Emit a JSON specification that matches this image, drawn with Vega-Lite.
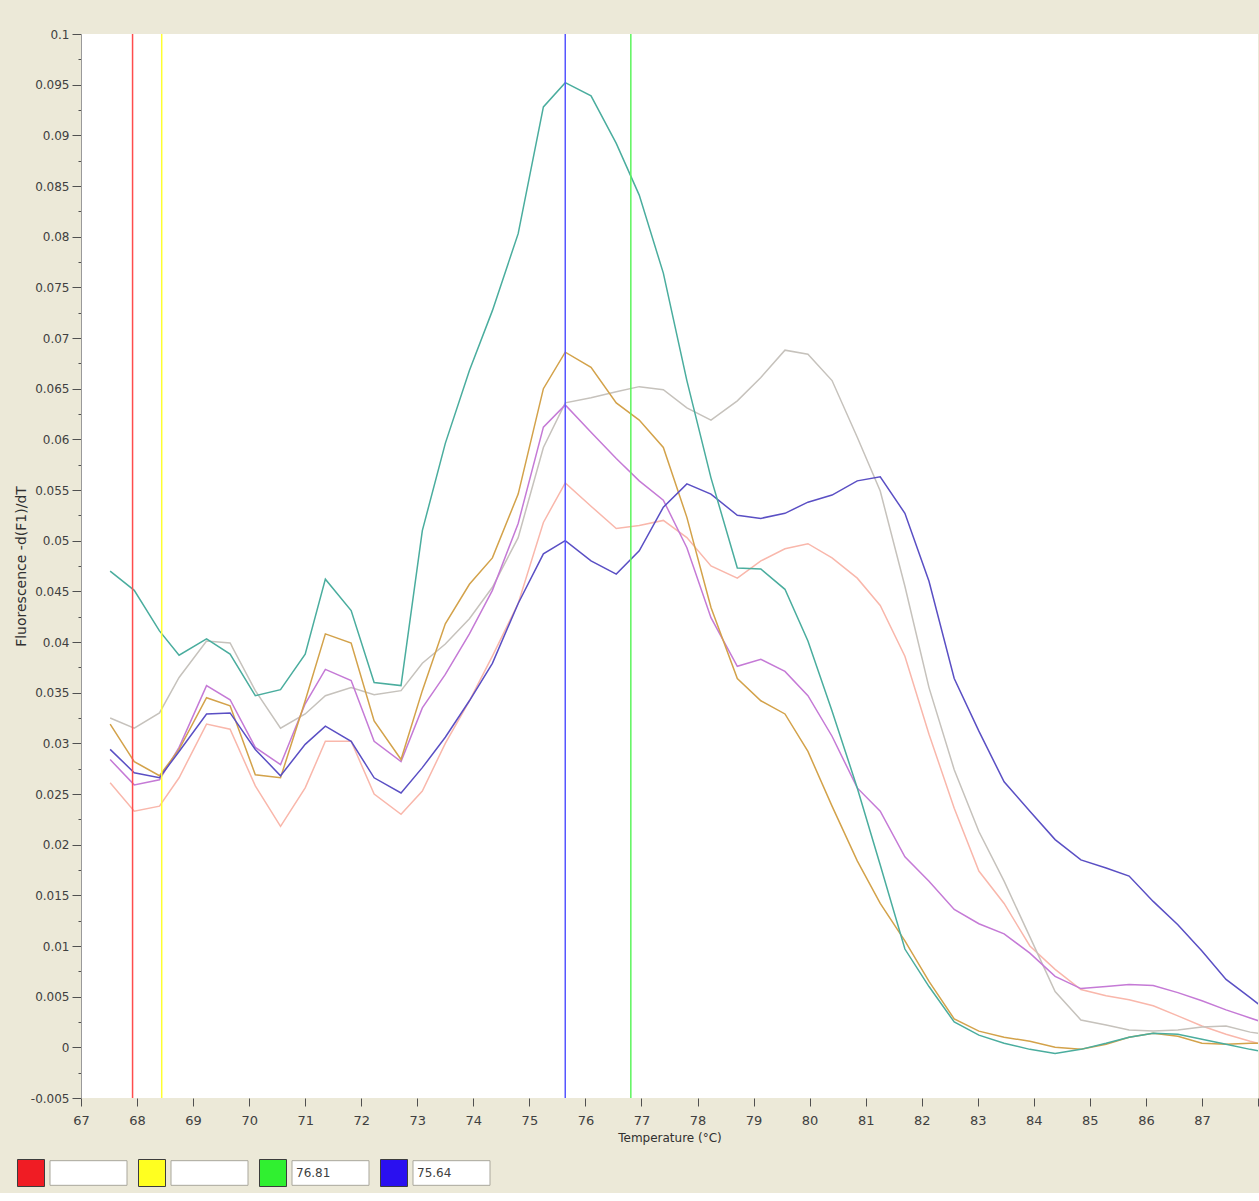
{
  "$schema": "https://vega.github.io/schema/vega-lite/v6.json",
  "background": "#ECE9D8",
  "padding": {"left": 14, "top": 28, "right": 0, "bottom": 0},
  "spacing": 10,
  "config": {
    "view": {"stroke": null},
    "font": "DejaVu Sans",
    "axis": {"labelColor": "#404040", "titleColor": "#303030", "tickColor": "#505050", "labelFontSize": 12, "titleFontWeight": "normal", "grid": false}
  },
  "datasets": {
    "curves": [
      {"sample":"S1","temperature":67.52,"value":0.0261},{"sample":"S1","temperature":67.95,"value":0.0233},{"sample":"S1","temperature":68.40,"value":0.0238},{"sample":"S1","temperature":68.75,"value":0.0266},{"sample":"S1","temperature":69.24,"value":0.0319},{"sample":"S1","temperature":69.66,"value":0.0314},{"sample":"S1","temperature":70.11,"value":0.0258},{"sample":"S1","temperature":70.56,"value":0.0218},{"sample":"S1","temperature":71.00,"value":0.0256},{"sample":"S1","temperature":71.36,"value":0.0302},{"sample":"S1","temperature":71.82,"value":0.0302},{"sample":"S1","temperature":72.23,"value":0.0250},{"sample":"S1","temperature":72.71,"value":0.0230},{"sample":"S1","temperature":73.09,"value":0.0253},{"sample":"S1","temperature":73.50,"value":0.0300},{"sample":"S1","temperature":73.93,"value":0.0342},{"sample":"S1","temperature":74.34,"value":0.0386},{"sample":"S1","temperature":74.80,"value":0.0438},{"sample":"S1","temperature":75.25,"value":0.0518},{"sample":"S1","temperature":75.64,"value":0.0557},{"sample":"S1","temperature":76.10,"value":0.0534},{"sample":"S1","temperature":76.55,"value":0.0512},{"sample":"S1","temperature":76.96,"value":0.0515},{"sample":"S1","temperature":77.39,"value":0.0520},{"sample":"S1","temperature":77.81,"value":0.0503},{"sample":"S1","temperature":78.24,"value":0.0475},{"sample":"S1","temperature":78.71,"value":0.0463},{"sample":"S1","temperature":79.13,"value":0.0480},{"sample":"S1","temperature":79.56,"value":0.0492},{"sample":"S1","temperature":79.97,"value":0.0497},{"sample":"S1","temperature":80.40,"value":0.0483},{"sample":"S1","temperature":80.85,"value":0.0463},{"sample":"S1","temperature":81.26,"value":0.0436},{"sample":"S1","temperature":81.70,"value":0.0386},{"sample":"S1","temperature":82.13,"value":0.0309},{"sample":"S1","temperature":82.58,"value":0.0236},{"sample":"S1","temperature":83.02,"value":0.0174},{"sample":"S1","temperature":83.47,"value":0.0142},{"sample":"S1","temperature":83.93,"value":0.0100},{"sample":"S1","temperature":84.38,"value":0.0077},{"sample":"S1","temperature":84.84,"value":0.0057},{"sample":"S1","temperature":85.29,"value":0.0051},{"sample":"S1","temperature":85.70,"value":0.0047},{"sample":"S1","temperature":86.13,"value":0.0041},{"sample":"S1","temperature":86.57,"value":0.0031},{"sample":"S1","temperature":87.00,"value":0.0021},{"sample":"S1","temperature":87.43,"value":0.0013},{"sample":"S1","temperature":87.86,"value":0.0006},{"sample":"S1","temperature":88.28,"value":0.0000},

      {"sample":"S2","temperature":67.52,"value":0.0325},{"sample":"S2","temperature":67.95,"value":0.0315},{"sample":"S2","temperature":68.40,"value":0.0330},{"sample":"S2","temperature":68.75,"value":0.0365},{"sample":"S2","temperature":69.24,"value":0.0401},{"sample":"S2","temperature":69.66,"value":0.0399},{"sample":"S2","temperature":70.11,"value":0.0352},{"sample":"S2","temperature":70.56,"value":0.0315},{"sample":"S2","temperature":71.00,"value":0.0329},{"sample":"S2","temperature":71.36,"value":0.0347},{"sample":"S2","temperature":71.82,"value":0.0355},{"sample":"S2","temperature":72.23,"value":0.0348},{"sample":"S2","temperature":72.71,"value":0.0352},{"sample":"S2","temperature":73.09,"value":0.0379},{"sample":"S2","temperature":73.50,"value":0.0398},{"sample":"S2","temperature":73.93,"value":0.0423},{"sample":"S2","temperature":74.34,"value":0.0454},{"sample":"S2","temperature":74.80,"value":0.0503},{"sample":"S2","temperature":75.25,"value":0.0592},{"sample":"S2","temperature":75.64,"value":0.0636},{"sample":"S2","temperature":76.10,"value":0.0641},{"sample":"S2","temperature":76.55,"value":0.0647},{"sample":"S2","temperature":76.96,"value":0.0652},{"sample":"S2","temperature":77.39,"value":0.0649},{"sample":"S2","temperature":77.81,"value":0.0631},{"sample":"S2","temperature":78.24,"value":0.0619},{"sample":"S2","temperature":78.71,"value":0.0638},{"sample":"S2","temperature":79.13,"value":0.0661},{"sample":"S2","temperature":79.56,"value":0.0688},{"sample":"S2","temperature":79.97,"value":0.0684},{"sample":"S2","temperature":80.40,"value":0.0658},{"sample":"S2","temperature":80.85,"value":0.0602},{"sample":"S2","temperature":81.26,"value":0.0549},{"sample":"S2","temperature":81.70,"value":0.0455},{"sample":"S2","temperature":82.13,"value":0.0355},{"sample":"S2","temperature":82.58,"value":0.0274},{"sample":"S2","temperature":83.02,"value":0.0213},{"sample":"S2","temperature":83.47,"value":0.0164},{"sample":"S2","temperature":83.93,"value":0.0109},{"sample":"S2","temperature":84.38,"value":0.0055},{"sample":"S2","temperature":84.84,"value":0.0027},{"sample":"S2","temperature":85.29,"value":0.0022},{"sample":"S2","temperature":85.70,"value":0.0017},{"sample":"S2","temperature":86.13,"value":0.0016},{"sample":"S2","temperature":86.57,"value":0.0017},{"sample":"S2","temperature":87.00,"value":0.0020},{"sample":"S2","temperature":87.43,"value":0.0021},{"sample":"S2","temperature":87.86,"value":0.0015},{"sample":"S2","temperature":88.28,"value":0.0012},

      {"sample":"S3","temperature":67.52,"value":0.0284},{"sample":"S3","temperature":67.95,"value":0.0259},{"sample":"S3","temperature":68.40,"value":0.0264},{"sample":"S3","temperature":68.75,"value":0.0296},{"sample":"S3","temperature":69.24,"value":0.0357},{"sample":"S3","temperature":69.66,"value":0.0343},{"sample":"S3","temperature":70.11,"value":0.0296},{"sample":"S3","temperature":70.56,"value":0.0279},{"sample":"S3","temperature":71.00,"value":0.0339},{"sample":"S3","temperature":71.36,"value":0.0373},{"sample":"S3","temperature":71.82,"value":0.0362},{"sample":"S3","temperature":72.23,"value":0.0302},{"sample":"S3","temperature":72.71,"value":0.0282},{"sample":"S3","temperature":73.09,"value":0.0335},{"sample":"S3","temperature":73.50,"value":0.0368},{"sample":"S3","temperature":73.93,"value":0.0408},{"sample":"S3","temperature":74.34,"value":0.0451},{"sample":"S3","temperature":74.80,"value":0.0517},{"sample":"S3","temperature":75.25,"value":0.0612},{"sample":"S3","temperature":75.64,"value":0.0634},{"sample":"S3","temperature":76.10,"value":0.0607},{"sample":"S3","temperature":76.55,"value":0.0581},{"sample":"S3","temperature":76.96,"value":0.0559},{"sample":"S3","temperature":77.39,"value":0.0540},{"sample":"S3","temperature":77.81,"value":0.0493},{"sample":"S3","temperature":78.24,"value":0.0424},{"sample":"S3","temperature":78.71,"value":0.0376},{"sample":"S3","temperature":79.13,"value":0.0383},{"sample":"S3","temperature":79.56,"value":0.0371},{"sample":"S3","temperature":79.97,"value":0.0347},{"sample":"S3","temperature":80.40,"value":0.0307},{"sample":"S3","temperature":80.85,"value":0.0256},{"sample":"S3","temperature":81.26,"value":0.0233},{"sample":"S3","temperature":81.70,"value":0.0188},{"sample":"S3","temperature":82.13,"value":0.0164},{"sample":"S3","temperature":82.58,"value":0.0136},{"sample":"S3","temperature":83.02,"value":0.0122},{"sample":"S3","temperature":83.47,"value":0.0112},{"sample":"S3","temperature":83.93,"value":0.0093},{"sample":"S3","temperature":84.38,"value":0.0070},{"sample":"S3","temperature":84.84,"value":0.0058},{"sample":"S3","temperature":85.29,"value":0.0060},{"sample":"S3","temperature":85.70,"value":0.0062},{"sample":"S3","temperature":86.13,"value":0.0061},{"sample":"S3","temperature":86.57,"value":0.0054},{"sample":"S3","temperature":87.00,"value":0.0046},{"sample":"S3","temperature":87.43,"value":0.0037},{"sample":"S3","temperature":87.86,"value":0.0029},{"sample":"S3","temperature":88.28,"value":0.0021},

      {"sample":"S4","temperature":67.52,"value":0.0319},{"sample":"S4","temperature":67.95,"value":0.0282},{"sample":"S4","temperature":68.40,"value":0.0268},{"sample":"S4","temperature":68.75,"value":0.0294},{"sample":"S4","temperature":69.24,"value":0.0345},{"sample":"S4","temperature":69.66,"value":0.0337},{"sample":"S4","temperature":70.11,"value":0.0269},{"sample":"S4","temperature":70.56,"value":0.0266},{"sample":"S4","temperature":71.00,"value":0.0342},{"sample":"S4","temperature":71.36,"value":0.0408},{"sample":"S4","temperature":71.82,"value":0.0399},{"sample":"S4","temperature":72.23,"value":0.0322},{"sample":"S4","temperature":72.71,"value":0.0284},{"sample":"S4","temperature":73.09,"value":0.0352},{"sample":"S4","temperature":73.50,"value":0.0418},{"sample":"S4","temperature":73.93,"value":0.0457},{"sample":"S4","temperature":74.34,"value":0.0483},{"sample":"S4","temperature":74.80,"value":0.0546},{"sample":"S4","temperature":75.25,"value":0.0650},{"sample":"S4","temperature":75.64,"value":0.0686},{"sample":"S4","temperature":76.10,"value":0.0671},{"sample":"S4","temperature":76.55,"value":0.0636},{"sample":"S4","temperature":76.96,"value":0.0619},{"sample":"S4","temperature":77.39,"value":0.0592},{"sample":"S4","temperature":77.81,"value":0.0523},{"sample":"S4","temperature":78.24,"value":0.0434},{"sample":"S4","temperature":78.71,"value":0.0364},{"sample":"S4","temperature":79.13,"value":0.0342},{"sample":"S4","temperature":79.56,"value":0.0329},{"sample":"S4","temperature":79.97,"value":0.0292},{"sample":"S4","temperature":80.40,"value":0.0238},{"sample":"S4","temperature":80.85,"value":0.0184},{"sample":"S4","temperature":81.26,"value":0.0142},{"sample":"S4","temperature":81.70,"value":0.0105},{"sample":"S4","temperature":82.13,"value":0.0065},{"sample":"S4","temperature":82.58,"value":0.0028},{"sample":"S4","temperature":83.02,"value":0.0016},{"sample":"S4","temperature":83.47,"value":0.0010},{"sample":"S4","temperature":83.93,"value":0.0006},{"sample":"S4","temperature":84.38,"value":0.0000},{"sample":"S4","temperature":84.84,"value":-0.0002},{"sample":"S4","temperature":85.29,"value":0.0003},{"sample":"S4","temperature":85.70,"value":0.0010},{"sample":"S4","temperature":86.13,"value":0.0014},{"sample":"S4","temperature":86.57,"value":0.0011},{"sample":"S4","temperature":87.00,"value":0.0004},{"sample":"S4","temperature":87.43,"value":0.0003},{"sample":"S4","temperature":87.86,"value":0.0004},{"sample":"S4","temperature":88.28,"value":0.0004},

      {"sample":"S5","temperature":67.52,"value":0.0294},{"sample":"S5","temperature":67.95,"value":0.0271},{"sample":"S5","temperature":68.40,"value":0.0266},{"sample":"S5","temperature":68.75,"value":0.0292},{"sample":"S5","temperature":69.24,"value":0.0329},{"sample":"S5","temperature":69.66,"value":0.0330},{"sample":"S5","temperature":70.11,"value":0.0294},{"sample":"S5","temperature":70.56,"value":0.0268},{"sample":"S5","temperature":71.00,"value":0.0299},{"sample":"S5","temperature":71.36,"value":0.0317},{"sample":"S5","temperature":71.82,"value":0.0302},{"sample":"S5","temperature":72.23,"value":0.0266},{"sample":"S5","temperature":72.71,"value":0.0251},{"sample":"S5","temperature":73.09,"value":0.0276},{"sample":"S5","temperature":73.50,"value":0.0306},{"sample":"S5","temperature":73.93,"value":0.0342},{"sample":"S5","temperature":74.34,"value":0.0379},{"sample":"S5","temperature":74.80,"value":0.0438},{"sample":"S5","temperature":75.25,"value":0.0487},{"sample":"S5","temperature":75.64,"value":0.0500},{"sample":"S5","temperature":76.10,"value":0.0480},{"sample":"S5","temperature":76.55,"value":0.0467},{"sample":"S5","temperature":76.96,"value":0.0490},{"sample":"S5","temperature":77.39,"value":0.0533},{"sample":"S5","temperature":77.81,"value":0.0556},{"sample":"S5","temperature":78.24,"value":0.0546},{"sample":"S5","temperature":78.71,"value":0.0525},{"sample":"S5","temperature":79.13,"value":0.0522},{"sample":"S5","temperature":79.56,"value":0.0527},{"sample":"S5","temperature":79.97,"value":0.0538},{"sample":"S5","temperature":80.40,"value":0.0545},{"sample":"S5","temperature":80.85,"value":0.0559},{"sample":"S5","temperature":81.26,"value":0.0563},{"sample":"S5","temperature":81.70,"value":0.0527},{"sample":"S5","temperature":82.13,"value":0.0460},{"sample":"S5","temperature":82.58,"value":0.0364},{"sample":"S5","temperature":83.02,"value":0.0312},{"sample":"S5","temperature":83.47,"value":0.0262},{"sample":"S5","temperature":83.93,"value":0.0233},{"sample":"S5","temperature":84.38,"value":0.0205},{"sample":"S5","temperature":84.84,"value":0.0185},{"sample":"S5","temperature":85.29,"value":0.0177},{"sample":"S5","temperature":85.70,"value":0.0169},{"sample":"S5","temperature":86.13,"value":0.0144},{"sample":"S5","temperature":86.57,"value":0.0121},{"sample":"S5","temperature":87.00,"value":0.0095},{"sample":"S5","temperature":87.43,"value":0.0067},{"sample":"S5","temperature":87.86,"value":0.0049},{"sample":"S5","temperature":88.28,"value":0.0031},

      {"sample":"S6","temperature":67.52,"value":0.0470},{"sample":"S6","temperature":67.95,"value":0.0451},{"sample":"S6","temperature":68.40,"value":0.0411},{"sample":"S6","temperature":68.75,"value":0.0387},{"sample":"S6","temperature":69.24,"value":0.0403},{"sample":"S6","temperature":69.66,"value":0.0388},{"sample":"S6","temperature":70.11,"value":0.0347},{"sample":"S6","temperature":70.56,"value":0.0353},{"sample":"S6","temperature":71.00,"value":0.0388},{"sample":"S6","temperature":71.36,"value":0.0462},{"sample":"S6","temperature":71.82,"value":0.0431},{"sample":"S6","temperature":72.23,"value":0.0360},{"sample":"S6","temperature":72.71,"value":0.0357},{"sample":"S6","temperature":73.09,"value":0.0510},{"sample":"S6","temperature":73.50,"value":0.0596},{"sample":"S6","temperature":73.93,"value":0.0668},{"sample":"S6","temperature":74.34,"value":0.0727},{"sample":"S6","temperature":74.80,"value":0.0803},{"sample":"S6","temperature":75.25,"value":0.0928},{"sample":"S6","temperature":75.64,"value":0.0952},{"sample":"S6","temperature":76.10,"value":0.0939},{"sample":"S6","temperature":76.55,"value":0.0892},{"sample":"S6","temperature":76.96,"value":0.0841},{"sample":"S6","temperature":77.39,"value":0.0764},{"sample":"S6","temperature":77.81,"value":0.0658},{"sample":"S6","temperature":78.24,"value":0.0562},{"sample":"S6","temperature":78.71,"value":0.0473},{"sample":"S6","temperature":79.13,"value":0.0472},{"sample":"S6","temperature":79.56,"value":0.0452},{"sample":"S6","temperature":79.97,"value":0.0401},{"sample":"S6","temperature":80.40,"value":0.0332},{"sample":"S6","temperature":80.85,"value":0.0256},{"sample":"S6","temperature":81.26,"value":0.0180},{"sample":"S6","temperature":81.70,"value":0.0097},{"sample":"S6","temperature":82.13,"value":0.0060},{"sample":"S6","temperature":82.58,"value":0.0025},{"sample":"S6","temperature":83.02,"value":0.0012},{"sample":"S6","temperature":83.47,"value":0.0004},{"sample":"S6","temperature":83.93,"value":-0.0002},{"sample":"S6","temperature":84.38,"value":-0.0006},{"sample":"S6","temperature":84.84,"value":-0.0002},{"sample":"S6","temperature":85.29,"value":0.0004},{"sample":"S6","temperature":85.70,"value":0.0010},{"sample":"S6","temperature":86.13,"value":0.0014},{"sample":"S6","temperature":86.57,"value":0.0013},{"sample":"S6","temperature":87.00,"value":0.0008},{"sample":"S6","temperature":87.43,"value":0.0003},{"sample":"S6","temperature":87.86,"value":-0.0002},{"sample":"S6","temperature":88.28,"value":-0.0006}
    ],
    "cursors": [
      {"cursor": "red", "temperature": 67.92, "readout": ""},
      {"cursor": "yellow", "temperature": 68.44, "readout": ""},
      {"cursor": "green", "temperature": 76.81, "readout": "76.81"},
      {"cursor": "blue", "temperature": 75.64, "readout": "75.64"}
    ]
  },
  "vconcat": [
    {
      "width": 1177,
      "height": 1064,
      "view": {"fill": "white", "stroke": null},
      "layer": [
        {
          "data": {"name": "curves"},
          "mark": {"type": "line", "strokeWidth": 1.5, "clip": true},
          "encoding": {
            "x": {
              "field": "temperature", "type": "quantitative",
              "scale": {"domain": [67, 88], "nice": false, "zero": false},
              "axis": {
                "title": "Temperature (°C)",
                "titleFontSize": 12,
                "titlePadding": 5,
                "domain": false,
                "values": [67,67.5,68,68.5,69,69.5,70,70.5,71,71.5,72,72.5,73,73.5,74,74.5,75,75.5,76,76.5,77,77.5,78,78.5,79,79.5,80,80.5,81,81.5,82,82.5,83,83.5,84,84.5,85,85.5,86,86.5,87,87.5,88],
                "labelExpr": "(datum.value % 1 == 0 && datum.value < 88) ? '' + datum.value : ''",
                "tickSize": {"condition": {"test": "datum.value % 1 == 0", "value": 8}, "value": 3},
                "labelFontSize": 13,
                "labelPadding": 8,
                "labelFlush": false,
                "labelOverlap": false
              }
            },
            "y": {
              "field": "value", "type": "quantitative",
              "scale": {"domain": [-0.005, 0.1], "nice": false, "zero": false},
              "axis": {
                "title": "Fluorescence -d(F1)/dT",
                "titleFontSize": 14,
                "titlePadding": 2,
                "domainColor": "#9a9a9a",
                "values": [-0.005,-0.0025,0,0.0025,0.005,0.0075,0.01,0.0125,0.015,0.0175,0.02,0.0225,0.025,0.0275,0.03,0.0325,0.035,0.0375,0.04,0.0425,0.045,0.0475,0.05,0.0525,0.055,0.0575,0.06,0.0625,0.065,0.0675,0.07,0.0725,0.075,0.0775,0.08,0.0825,0.085,0.0875,0.09,0.0925,0.095,0.0975,0.1],
                "labelExpr": "round(datum.value * 400) % 2 == 0 ? '' + datum.value : ''",
                "tickSize": {"condition": {"test": "round(datum.value * 400) % 2 == 0", "value": 9}, "value": 3},
                "labelPadding": 3,
                "labelOverlap": false,
                "labelFlush": false
              }
            },
            "color": {
              "field": "sample", "type": "nominal", "legend": null,
              "scale": {"domain": ["S1","S2","S3","S4","S5","S6"], "range": ["#f9b7ab","#c6c2bc","#c57ad6","#d3a24a","#5a4fc4","#4aad9e"]}
            }
          }
        },
        {
          "data": {"name": "cursors"},
          "mark": {"type": "rule", "strokeWidth": 1.5},
          "encoding": {
            "x": {"field": "temperature", "type": "quantitative"},
            "stroke": {
              "field": "cursor", "type": "nominal", "legend": null,
              "scale": {"domain": ["red","yellow","green","blue"], "range": ["#ff4d4d","#ffff30","#5cf55c","#5656ff"]}
            }
          }
        }
      ]
    },
    {
      "width": 484,
      "height": 40,
      "view": {"stroke": null},
      "data": {"name": "cursors"},
      "encoding": {
        "x": {"field": "cursor", "type": "nominal", "axis": null,
              "scale": {"domain": ["red","yellow","green","blue"], "paddingInner": 0, "paddingOuter": 0}}
      },
      "layer": [
        {
          "mark": {"type": "point", "shape": "square", "size": 729, "filled": true, "opacity": 1, "stroke": "#3c3c3c", "strokeWidth": 1, "xOffset": -110.5},
          "encoding": {
            "fill": {"field": "cursor", "type": "nominal", "legend": null,
                     "scale": {"domain": ["red","yellow","green","blue"], "range": ["#f01c24","#ffff20","#30f030","#2a10f0"]}}
          }
        },
        {
          "mark": {"type": "point", "shape": "M-1,-0.32L1,-0.32L1,0.32L-1,0.32Z", "size": 5929, "filled": true, "opacity": 1, "fill": "white", "stroke": "#a9a79c", "strokeWidth": 1, "xOffset": -53}
        },
        {
          "mark": {"type": "text", "align": "left", "baseline": "middle", "fontSize": 12, "color": "#404040", "xOffset": -87.5, "font": "DejaVu Sans"},
          "encoding": {"text": {"field": "readout"}}
        }
      ]
    }
  ]
}
